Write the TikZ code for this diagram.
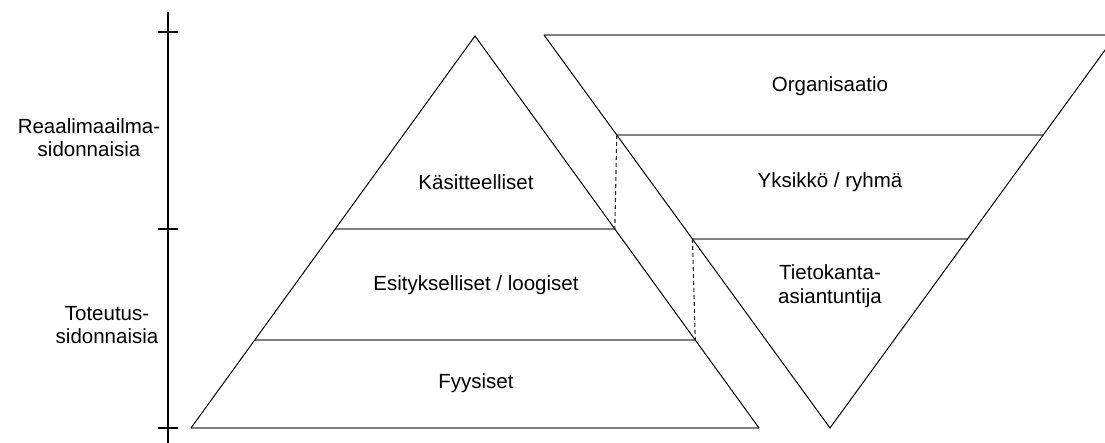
\documentclass[tikz,border=0pt]{standalone}
\usepackage{fontspec}
\setmainfont{Liberation Sans}
\usetikzlibrary{calc}
\begin{document}
\begin{tikzpicture}[x=1pt,y=-1pt,
  edge/.style={line width=1pt, black},
  band/.style={line width=1.7pt, black!50},
  link/.style={line width=1.1pt, black!85, dash pattern=on 4pt off 3pt},
  lbl/.style={font=\fontsize{20.5}{23.5}\selectfont, align=center, inner sep=0pt},
  axisline/.style={line width=1.6pt, black}]
\useasboundingbox (0,0) rectangle (1105,443);
\clip (0,0) rectangle (1105,443);

% scale on the left
\coordinate (ax0) at (168,12);
\coordinate (ax1) at (168,443);
\draw[axisline] (ax0) -- (ax1);
\foreach \ty in {32, 229, 428}{
  \draw[axisline] (158,\ty) -- (178,\ty);
}
\node[lbl] (real) at (89,137.5) {Reaalimaailma-\\sidonnaisia};
\node[lbl] (tot)  at (107,325) {Toteutus-\\sidonnaisia};

% upright pyramid
\coordinate (A)  at (475,36);
\coordinate (BL) at (191,428);
\coordinate (BR) at (759,428);
\coordinate (a1l) at ($(A)!0.49235!(BL)$);
\coordinate (a1r) at ($(A)!0.49235!(BR)$);
\coordinate (a2l) at ($(A)!0.77551!(BL)$);
\coordinate (a2r) at ($(A)!0.77551!(BR)$);
\draw[band] (a1l) -- (a1r);
\draw[band] (a2l) -- (a2r);
\draw[band] (BL) -- (BR);
\draw[edge] (BL) -- (A) -- (BR);

% inverted pyramid
\coordinate (TL) at (544,35);
\coordinate (TR) at (1116,35);
\coordinate (V)  at (830,428);
\coordinate (b1l) at ($(TL)!0.25445!(V)$);
\coordinate (b1r) at ($(TR)!0.25445!(V)$);
\coordinate (b2l) at ($(TL)!0.51908!(V)$);
\coordinate (b2r) at ($(TR)!0.51908!(V)$);
\draw[band] (TL) -- (TR);
\draw[band] (b1l) -- (b1r);
\draw[band] (b2l) -- (b2r);
\draw[edge] (TL) -- (V) -- (TR);

% links between the levels
\draw[link] (b1l) -- (a1r);
\draw[link] (b2l) -- (a2r);

% level names
\node[lbl] (kas) at (476,182) {Käsitteelliset};
\node[lbl] (esi) at (476,285) {Esitykselliset / loogiset};
\node[lbl] (fyy) at (476,383) {Fyysiset};
\node[lbl] (org) at (830,86) {Organisaatio};
\node[lbl] (yks) at (830,182) {Yksikkö / ryhmä};
\node[lbl] (tie) at (830,286) {Tietokanta-\\asiantuntija};
\end{tikzpicture}
\end{document}
